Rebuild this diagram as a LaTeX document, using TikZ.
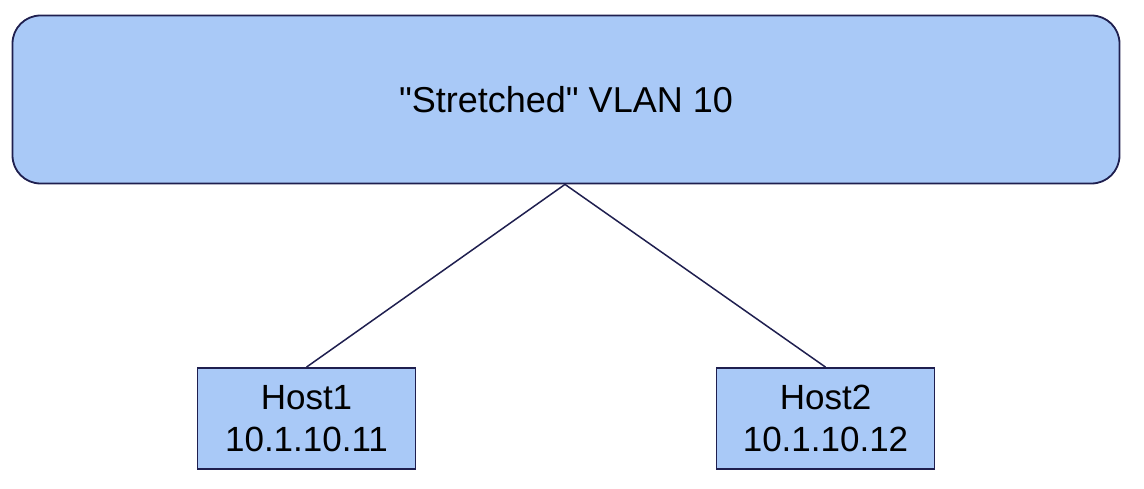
\documentclass[tikz,border=0pt]{standalone}
\usepackage{fontspec}
\newfontfamily\lsans{Liberation Sans}
\definecolor{boxfill}{RGB}{169,201,247}
\definecolor{boxline}{RGB}{31,31,79}
\begin{document}
\begin{tikzpicture}[x=1pt,y=-1pt,
  vlanbox/.style={draw=boxline, fill=boxfill, line width=1.8pt, rounded corners=28pt,
    minimum width=1107pt, minimum height=168pt, inner sep=0pt,
    font=\lsans\fontsize{36}{43}\selectfont},
  hostbox/.style={draw=boxline, fill=boxfill, line width=1.8pt,
    minimum width=218pt, minimum height=101pt, inner sep=0pt, align=center,
    font=\lsans\fontsize{35}{42}\selectfont},
  link/.style={draw=boxline, line width=1.5pt}]
\useasboundingbox (0,0) rectangle (1144,489);
\node[vlanbox] (vlan) at (566,99.5) {"Stretched" VLAN 10};
\node[hostbox] (h1) at (306.5,418.5) {Host1\\10.1.10.11};
\node[hostbox] (h2) at (825.5,418.5) {Host2\\10.1.10.12};
\draw[link] (vlan.south -| 565,0) -- (h1.north);
\draw[link] (vlan.south -| 565,0) -- (h2.north);
\end{tikzpicture}
\end{document}
